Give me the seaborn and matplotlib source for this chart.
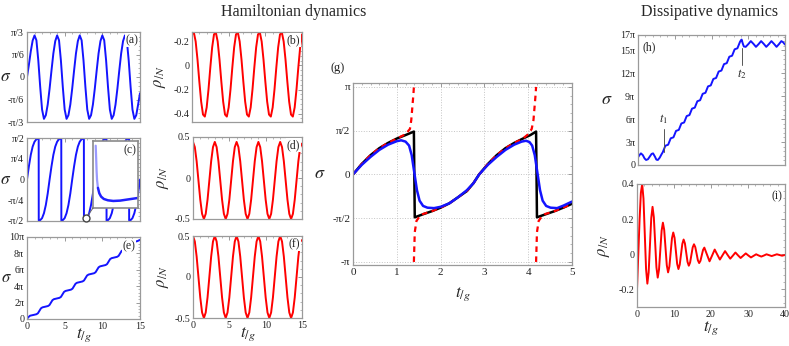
import matplotlib
matplotlib.use('Agg')
import matplotlib.pyplot as plt
from matplotlib.ticker import AutoMinorLocator
from matplotlib.patches import ConnectionPatch
import seaborn as sns

sns.set_theme(style='white')
plt.rcParams['font.family'] = ['Liberation Serif', 'DejaVu Serif']
plt.rcParams['mathtext.fontset'] = 'stix'

# ---------------- data (sigma values in units of pi) ----------------
t_ham = [0, 0.25, 0.5, 0.75, 1, 1.25, 1.5, 1.75, 2, 2.25, 2.5, 2.75, 3, 3.25, 3.5, 3.75,
         4, 4.25, 4.5, 4.75, 5, 5.25, 5.5, 5.75, 6, 6.25, 6.5, 6.75, 7, 7.25, 7.5, 7.75,
         8, 8.25, 8.5, 8.75, 9, 9.25, 9.5, 9.75, 10, 10.25, 10.5, 10.75, 11, 11.25, 11.5,
         11.75, 12, 12.25, 12.5, 12.75, 13, 13.25, 13.5, 13.75, 14, 14.25, 14.5, 14.75, 15]

# (a) sigma
sigma_a = [0, 0.09, 0.19, 0.27,
           0.308, 0.272, 0.123, -0.072, -0.241, -0.31, -0.283, -0.204, -0.086, 0.048, 0.175, 0.266,
           0.308, 0.272, 0.123, -0.072, -0.241, -0.31, -0.283, -0.204, -0.086, 0.048, 0.175, 0.266,
           0.308, 0.272, 0.123, -0.072, -0.241, -0.31, -0.283, -0.204, -0.086, 0.048, 0.175, 0.266,
           0.308, 0.272, 0.123, -0.072, -0.241, -0.31, -0.283, -0.204, -0.086, 0.048, 0.175, 0.266,
           0.308, 0.272, 0.123, -0.072, -0.241, -0.31, -0.283, -0.204, -0.12]

# (b) rho/N
rho_b = [0.258, 0.275, 0.199, 0.049, -0.134, -0.301, -0.408, -0.425, -0.349, -0.199, -0.016, 0.151,
         0.258, 0.275, 0.199, 0.049, -0.134, -0.301, -0.408, -0.425, -0.349, -0.199, -0.016, 0.151,
         0.258, 0.275, 0.199, 0.049, -0.134, -0.301, -0.408, -0.425, -0.349, -0.199, -0.016, 0.151,
         0.258, 0.275, 0.199, 0.049, -0.134, -0.301, -0.408, -0.425, -0.349, -0.199, -0.016, 0.151,
         0.258, 0.275, 0.199, 0.049, -0.134, -0.301, -0.408, -0.425, -0.349, -0.199, -0.016, 0.151,
         0.258]

# (d) rho/N
rho_d = [0.44, 0.377, 0.205, -0.03, -0.265, -0.437, -0.5, -0.437, -0.265, -0.03, 0.205, 0.377,
         0.44, 0.377, 0.205, -0.03, -0.265, -0.437, -0.5, -0.437, -0.265, -0.03, 0.205, 0.377,
         0.44, 0.377, 0.205, -0.03, -0.265, -0.437, -0.5, -0.437, -0.265, -0.03, 0.205, 0.377,
         0.44, 0.377, 0.205, -0.03, -0.265, -0.437, -0.5, -0.437, -0.265, -0.03, 0.205, 0.377,
         0.44, 0.377, 0.205, -0.03, -0.265, -0.437, -0.5, -0.437, -0.265, -0.03, 0.205, 0.377,
         0.42]

# (f) rho/N
rho_f = [0.5, 0.433, 0.25, 0, -0.25, -0.433, -0.5, -0.433, -0.25, 0, 0.25, 0.433,
         0.5, 0.433, 0.25, 0, -0.25, -0.433, -0.5, -0.433, -0.25, 0, 0.25, 0.433,
         0.5, 0.433, 0.25, 0, -0.25, -0.433, -0.5, -0.433, -0.25, 0, 0.25, 0.433,
         0.5, 0.433, 0.25, 0, -0.25, -0.433, -0.5, -0.433, -0.25, 0, 0.25, 0.433,
         0.5, 0.433, 0.25, 0, -0.25, -0.433, -0.5, -0.433, -0.25, 0, 0.25, 0.433,
         0.45]

# (c) sigma
t_c = [0, 0.25, 0.5, 0.75, 1.0, 1.25, 1.5, 1.55, 1.56, 1.75, 2.0, 2.25, 2.5, 2.75,
       3, 3.25, 3.5, 3.75, 4.0, 4.25, 4.5, 4.55, 4.56, 4.75, 5.0, 5.25, 5.5, 5.75,
       6, 6.25, 6.5, 6.75, 7.0, 7.25, 7.5, 7.55, 7.56, 7.75, 8.0, 8.25, 8.5, 8.75,
       9, 9.25, 9.5, 9.75, 10.0, 10.25, 10.5, 10.55, 10.56, 10.75, 11.0, 11.25, 11.5, 11.75,
       12, 12.25, 12.5, 12.75, 13.0, 13.25, 13.5, 13.55, 13.56, 13.75, 14.0, 14.25, 14.5, 14.75,
       15]
sigma_c = [0, 0.16, 0.3, 0.4, 0.46, 0.49, 0.5, 0.5, -0.5, -0.495, -0.47, -0.41, -0.31, -0.17,
           0, 0.16, 0.3, 0.4, 0.46, 0.49, 0.5, 0.5, -0.5, -0.495, -0.47, -0.41, -0.31, -0.17,
           0, 0.16, 0.3, 0.4, 0.46, 0.49, 0.5, 0.5, -0.5, -0.495, -0.47, -0.41, -0.31, -0.17,
           0, 0.16, 0.3, 0.4, 0.46, 0.49, 0.5, 0.5, -0.5, -0.495, -0.47, -0.41, -0.31, -0.17,
           0, 0.16, 0.3, 0.4, 0.46, 0.49, 0.5, 0.5, -0.5, -0.495, -0.47, -0.41, -0.31, -0.17,
           0]
# magnified region of (c) and inset curve (arbitrary inset units)
zoom_t, zoom_s = 7.85, -0.47
inset_x = [0.06, 0.07, 0.08, 0.09, 0.11, 0.14, 0.18, 0.24, 0.33, 0.45, 0.6, 0.75, 0.9, 1.0]
inset_y = [0.93, 0.75, 0.55, 0.42, 0.3, 0.22, 0.17, 0.135, 0.115, 0.105, 0.11, 0.125, 0.14, 0.15]

# (e) sigma
t_e = [0, 0.15, 0.4, 0.885,
       1.25, 1.45, 1.65, 1.85, 2.05, 2.415, 2.78, 2.98, 3.18, 3.38, 3.58, 3.945,
       4.31, 4.51, 4.71, 4.91, 5.11, 5.475, 5.84, 6.04, 6.24, 6.44, 6.64, 7.005,
       7.37, 7.57, 7.77, 7.97, 8.17, 8.535, 8.9, 9.1, 9.3, 9.5, 9.7, 10.065,
       10.43, 10.63, 10.83, 11.03, 11.23, 11.595, 11.96, 12.16, 12.36, 12.56, 12.76, 13.125,
       13.49, 13.69, 13.89, 14.09, 14.29, 14.655, 15.0]
sigma_e = [0, 0.2, 0.4, 0.5,
           0.58, 0.7, 1.0, 1.3, 1.42, 1.5, 1.58, 1.7, 2.0, 2.3, 2.42, 2.5,
           2.58, 2.7, 3.0, 3.3, 3.42, 3.5, 3.58, 3.7, 4.0, 4.3, 4.42, 4.5,
           4.58, 4.7, 5.0, 5.3, 5.42, 5.5, 5.58, 5.7, 6.0, 6.3, 6.42, 6.5,
           6.58, 6.7, 7.0, 7.3, 7.42, 7.5, 7.58, 7.7, 8.0, 8.3, 8.42, 8.5,
           8.58, 8.7, 9.0, 9.3, 9.42, 9.5, 9.65]

# (g) sigma: full (black), approximate (red dashed, three branches), blue
t_g_black = [0, 0.2, 0.4, 0.6, 0.8, 1.0, 1.2, 1.39, 1.41, 1.6, 1.8, 2.0, 2.2, 2.4, 2.6, 2.75,
             2.88, 3.08, 3.28, 3.48, 3.68, 3.88, 4.05, 4.18, 4.2, 4.4, 4.6, 4.8, 5.0]
s_g_black = [0, 0.12, 0.22, 0.3, 0.36, 0.41, 0.45, 0.49, -0.49, -0.455, -0.42, -0.38, -0.33, -0.26, -0.19, -0.1,
             0, 0.12, 0.22, 0.3, 0.36, 0.41, 0.45, 0.49, -0.49, -0.455, -0.42, -0.38, -0.335]
t_g_red1 = [0, 0.2, 0.4, 0.6, 0.8, 1.0, 1.2, 1.3, 1.33, 1.36, 1.38, 1.39]
s_g_red1 = [0, 0.12, 0.22, 0.3, 0.36, 0.41, 0.46, 0.52, 0.62, 0.8, 0.92, 1.0]
t_g_red2 = [1.39, 1.41, 1.45, 1.55, 1.8, 2.0, 2.2, 2.4, 2.6, 2.75, 2.88, 3.08, 3.28, 3.48, 3.68,
            3.88, 4.0, 4.08, 4.12, 4.15, 4.17, 4.18]
s_g_red2 = [-1.0, -0.66, -0.53, -0.46, -0.42, -0.38, -0.33, -0.26, -0.19, -0.1, 0, 0.12, 0.22, 0.3, 0.36,
            0.41, 0.46, 0.52, 0.62, 0.8, 0.92, 1.0]
t_g_red3 = [4.18, 4.2, 4.24, 4.34, 4.6, 4.8, 5.0]
s_g_red3 = [-1.0, -0.66, -0.53, -0.46, -0.42, -0.38, -0.335]
t_g_blue = [0, 0.2, 0.4, 0.6, 0.8, 1.0, 1.1, 1.2, 1.28, 1.34, 1.4, 1.46, 1.52, 1.6, 1.7, 1.85, 2.0,
            2.2, 2.4, 2.6, 2.75, 2.88, 3.08, 3.28, 3.48, 3.68, 3.85, 3.95, 4.03, 4.09, 4.15, 4.21,
            4.27, 4.33, 4.41, 4.51, 4.66, 4.81, 5.0]
s_g_blue = [0, 0.11, 0.2, 0.28, 0.34, 0.38, 0.39, 0.375, 0.33, 0.22, 0.02, -0.18, -0.3, -0.36, -0.38, -0.385, -0.37,
            -0.33, -0.26, -0.18, -0.1, 0, 0.11, 0.2, 0.28, 0.34, 0.375, 0.385, 0.37, 0.33, 0.22, 0.02,
            -0.18, -0.3, -0.36, -0.38, -0.385, -0.355, -0.31]

# (h) sigma, dissipative
t_h = [0, 0.4, 0.8, 1.3, 1.8, 2.2, 2.7, 3.2, 3.7, 4.1, 4.6, 5.0, 5.4, 5.9, 6.4,
       6.75, 7.1, 7.45, 8.2, 8.55, 8.9, 9.65, 10.0, 10.35, 11.1, 11.45, 11.8,
       12.55, 12.9, 13.25, 14.0, 14.35, 14.7, 15.45, 15.8, 16.15, 16.9, 17.25, 17.6,
       18.35, 18.7, 19.05, 19.8, 20.15, 20.5, 21.25, 21.6, 21.95, 22.7, 23.05, 23.4,
       24.15, 24.5, 24.85, 25.6, 25.95, 26.3, 27.05, 27.4, 27.75,
       28.0, 28.2, 28.5, 28.8, 29.3, 30.0, 30.7, 31.4, 32.1, 32.8, 33.5, 34.2, 34.9,
       35.6, 36.3, 37.0, 37.7, 38.35, 39.0, 39.5, 40.0]
sigma_h = [1.0, 1.3, 1.52, 1.3, 0.85, 0.66, 0.75, 1.1, 1.45, 1.52, 1.1, 0.7, 0.66, 0.95, 1.4,
           1.68, 2.1, 2.52, 2.65, 3.07, 3.49, 3.62, 4.04, 4.46, 4.59, 5.01, 5.43,
           5.56, 5.98, 6.4, 6.53, 6.95, 7.37, 7.5, 7.92, 8.34, 8.47, 8.89, 9.31,
           9.44, 9.86, 10.28, 10.41, 10.83, 11.25, 11.38, 11.8, 12.22, 12.35, 12.77, 13.19,
           13.32, 13.74, 14.16, 14.29, 14.71, 15.13, 15.26, 15.68, 16.1,
           16.3, 16.4, 15.9, 15.5, 15.45, 15.8, 16.2, 15.85, 15.45, 15.8, 16.2, 15.85, 15.45,
           15.8, 16.2, 15.85, 15.45, 15.8, 16.2, 16.05, 15.75]
t1_mark, t1_span = 6.97, (1.7, 4.75)
t2_mark, t2_span = 28.2, (13.1, 15.35)

# (i) rho/N, dissipative
t_i = [0, 0.35, 0.7, 1.05, 1.4, 1.75, 2.1, 2.45, 2.8, 3.15, 3.5, 3.85, 4.2, 4.55, 4.9, 5.25,
       5.6, 5.95, 6.3, 6.65, 7.0, 7.35, 7.7, 8.05, 8.4, 8.75, 9.1, 9.45, 9.8, 10.15, 10.5,
       10.85, 11.2, 11.55, 11.9, 12.25, 12.6, 12.95, 13.3, 13.65, 14.0, 14.35, 14.7, 15.05,
       15.4, 15.75, 16.1, 16.45, 16.8, 17.15, 17.5, 17.85, 18.2,
       18.9, 19.6, 20.3, 21.0, 21.7, 22.4, 23.1, 23.8, 24.5, 25.2, 25.9, 26.6, 27.3, 28.0,
       28.7, 29.4, 30.1, 30.8, 31.5, 32.2, 32.9, 33.6, 34.3, 35.0, 35.7, 36.4, 37.1, 37.8,
       38.5, 39.2, 40.0]
rho_i = [-0.2, 0.0, 0.2, 0.35, 0.4,
         0.317, 0.117, -0.084, -0.167,
         -0.103, 0.052, 0.206, 0.27,
         0.211, 0.069, -0.074, -0.133,
         -0.087, 0.024, 0.134, 0.18,
         0.139, 0.039, -0.062, -0.103,
         -0.07, 0.011, 0.091, 0.124,
         0.094, 0.02, -0.054, -0.084,
         -0.059, 0.0, 0.059, 0.084,
         0.062, 0.01, -0.043, -0.065,
         -0.047, -0.004, 0.039, 0.057,
         0.041, 0.004, -0.034, -0.05,
         -0.037, -0.006, 0.025, 0.038,
         -0.001, -0.04, -0.007, 0.027, -0.002, -0.03, -0.006, 0.018, -0.004, -0.025,
         -0.008, 0.01, -0.006, -0.021, -0.008, 0.005, -0.007, -0.018, -0.009, 0.0,
         -0.007, -0.013, -0.007, 0.0, -0.005, -0.01, -0.005, 0.0, -0.004, -0.008, -0.004]

# ---------------- figure ----------------
W, H = 789, 346
fig = plt.figure(figsize=(W / 100, H / 100), dpi=100)
BLUE, RED = '#1414ff', '#ff0000'
FRAME = '#9a9a9a'


def make_ax(x0, y0, x1, y1):
    # pixel box -> figure axes
    return fig.add_axes([x0 / W, 1 - y1 / H, (x1 - x0) / W, (y1 - y0) / H])


def style(ax, xlim, xticks, ylim, yticks, ylabels, show_x=False):
    ax.set_xlim(*xlim)
    ax.set_ylim(*ylim)
    ax.set_xticks(xticks)
    ax.set_yticks(yticks)
    ax.set_yticklabels(ylabels)
    if show_x:
        ax.set_xticklabels([('%g' % v) for v in xticks])
    ax.xaxis.set_minor_locator(AutoMinorLocator(5))
    ax.yaxis.set_minor_locator(AutoMinorLocator(5))
    ax.tick_params(which='both', direction='in', top=True, right=True, color=FRAME,
                   labelsize=7.2, pad=2, labelbottom=show_x, labelcolor='#222222')
    ax.tick_params(which='major', length=3, width=0.7)
    ax.tick_params(which='minor', length=1.6, width=0.5)
    for sp in ax.spines.values():
        sp.set_color(FRAME)
        sp.set_linewidth(0.9)
    ax.set_xlabel('')
    ax.set_ylabel('')


def panel_tag(ax, text, x=0.985, y=0.975, ha='right', va='top'):
    ax.text(x, y, text, transform=ax.transAxes, ha=ha, va=va, fontsize=8.5, zorder=6,
            bbox=dict(fc='white', ec='none', pad=0.6))


def ylab(ax, text, xpos, rot=0, size=13):
    ax.set_ylabel(text, rotation=rot, fontsize=size, va='center', ha='center')
    ax.yaxis.set_label_coords(xpos, 0.5)


def xlab(ax, ypos):
    ax.set_xlabel(r'$t_{/g}$', fontsize=12.5, va='top')
    ax.xaxis.set_label_coords(0.5, ypos)


def line(ax, x, y, color, lw=1.4, **kw):
    sns.lineplot(x=x, y=y, ax=ax, color=color, linewidth=lw, estimator=None,
                 sort=False, legend=False, **kw)


pi3 = ['-π/3', '-π/6', '0', 'π/6', 'π/3']
pi2 = ['-π/2', '-π/4', '0', 'π/4', 'π/2']

# (a)
ax_a = make_ax(27, 32, 140, 122)
line(ax_a, t_ham, sigma_a, BLUE)
style(ax_a, (0, 15), [0, 5, 10, 15], (-1 / 3, 1 / 3), [-1 / 3, -1 / 6, 0, 1 / 6, 1 / 3], pi3)
ylab(ax_a, r'$\sigma$', -0.185, size=12.5)
panel_tag(ax_a, '(a)')

# (c)
ax_c = make_ax(27, 138, 140, 221)
line(ax_c, t_c, sigma_c, BLUE)
style(ax_c, (0, 15), [0, 5, 10, 15], (-0.505, 0.505), [-0.5, -0.25, 0, 0.25, 0.5], pi2)
ylab(ax_c, r'$\sigma$', -0.185, size=12.5)
ax_c.plot([zoom_t], [zoom_s], 'o', ms=5, mfc='white', mec='#444444', mew=1.0,
          zorder=7, clip_on=False)

ax_in = make_ax(93, 141, 138, 208)
ax_in.set_facecolor('white')
line(ax_in, inset_x[:5], inset_y[:5], '#9a9aff', lw=1.6)
line(ax_in, inset_x[4:], inset_y[4:], '#2020ff', lw=1.8)
ax_in.set_xlim(0, 1)
ax_in.set_ylim(0, 1)
ax_in.set_xticks([])
ax_in.set_yticks([])
ax_in.set_xlabel('')
ax_in.set_ylabel('')
for sp in ax_in.spines.values():
    sp.set_color('#8a8a8a')
    sp.set_linewidth(1.2)
ax_in.text(0.97, 0.95, '(c)', transform=ax_in.transAxes, ha='right', va='top', fontsize=8.5)
con = ConnectionPatch(xyA=(zoom_t, zoom_s), coordsA=ax_c.transData, xyB=(0, 0),
                      coordsB=ax_in.transAxes, color='#666666', lw=0.7, shrinkA=3, shrinkB=0)
fig.add_artist(con)

# (e)
ax_e = make_ax(27, 237, 140, 319)
line(ax_e, t_e, sigma_e, BLUE)
style(ax_e, (0, 15), [0, 5, 10, 15], (0, 10), [0, 2, 4, 6, 8, 10],
      ['0', '2π', '4π', '6π', '8π', '10π'], show_x=True)
ylab(ax_e, r'$\sigma$', -0.18, size=12)
xlab(ax_e, -0.09)
panel_tag(ax_e, '(e)', x=0.96, y=0.965)

# (b)
ax_b = make_ax(192, 32, 302, 122)
line(ax_b, t_ham, rho_b, RED)
style(ax_b, (0, 15), [0, 5, 10, 15], (-0.47, 0.278), [-0.4, -0.2, 0, 0.2],
      ['-0.4', '-0.2', '0', '-0.2'])
ylab(ax_b, r'$\rho_{/N}$', -0.29, rot=90, size=12)
panel_tag(ax_b, '(b)')

# (d)
ax_d = make_ax(193, 137, 302, 219)
line(ax_d, t_ham, rho_d, RED)
style(ax_d, (0, 15), [0, 5, 10, 15], (-0.5, 0.5), [-0.5, 0, 0.5], ['-0.5', '0', '0.5'])
ylab(ax_d, r'$\rho_{/N}$', -0.275, rot=90, size=12)
panel_tag(ax_d, '(d)')

# (f)
ax_f = make_ax(193, 236, 302, 318)
line(ax_f, t_ham, rho_f, RED)
style(ax_f, (0, 15), [0, 5, 10, 15], (-0.5, 0.5), [-0.5, 0, 0.5], ['-0.5', '0', '0.5'],
      show_x=True)
ylab(ax_f, r'$\rho_{/N}$', -0.275, rot=90, size=12)
xlab(ax_f, -0.09)
panel_tag(ax_f, '(f)')

# (g)
ax_g = make_ax(353, 83, 572, 265)
ax_g.grid(True, which='major', ls=':', color='#c4c4c4', lw=0.7)
line(ax_g, t_g_black, s_g_black, 'black', lw=1.8)
for tt, ss in [(t_g_red1, s_g_red1), (t_g_red2, s_g_red2), (t_g_red3, s_g_red3)]:
    line(ax_g, tt, ss, RED, lw=1.6, linestyle=(0, (2.5, 2)))
line(ax_g, t_g_blue, s_g_blue, BLUE, lw=1.8)
style(ax_g, (0, 5), [0, 1, 2, 3, 4, 5], (-1.035, 1.045), [-1, -0.5, 0, 0.5, 1],
      ['-π', '-π/2', '0', 'π/2', 'π'], show_x=True)
ax_g.tick_params(labelsize=8)
ylab(ax_g, r'$\sigma$', -0.15)
xlab(ax_g, -0.11)
ax_g.text(-0.07, 1.085, '(g)', transform=ax_g.transAxes, ha='center', va='center', fontsize=9)

# (h)
ax_h = make_ax(638, 35, 785, 165)
line(ax_h, t_h, sigma_h, BLUE)
style(ax_h, (0, 40), [0, 10, 20, 30, 40], (0, 17), [0, 3, 6, 9, 12, 15, 17],
      ['0', '3π', '6π', '9π', '12π', '15π', '17π'])
ax_h.plot([t1_mark, t1_mark], t1_span, color='#555555', lw=0.7)
ax_h.plot([t2_mark, t2_mark], t2_span, color='#555555', lw=0.7)
ax_h.text(t1_mark, t1_span[1] + 0.3, r'$t_1$', ha='center', va='bottom', fontsize=9)
ax_h.text(t2_mark, t2_span[0] - 0.3, r'$t_2$', ha='center', va='top', fontsize=9)
ylab(ax_h, r'$\sigma$', -0.21)
panel_tag(ax_h, '(h)', x=0.03, y=0.95, ha='left')

# (i)
ax_i = make_ax(637, 184, 785, 307)
line(ax_i, t_i, rho_i, RED)
style(ax_i, (0, 40), [0, 10, 20, 30, 40], (-0.3, 0.4), [-0.2, 0, 0.2, 0.4],
      ['-0.2', '0', '0.2', '0.4'], show_x=True)
ylab(ax_i, r'$\rho_{/N}$', -0.22, rot=90, size=12)
xlab(ax_i, -0.1)
panel_tag(ax_i, '(i)', x=0.98, y=0.95)

fig.text(294 / W, 1 - 12 / H, 'Hamiltonian dynamics', ha='center', va='center', fontsize=11.5)
fig.text(710 / W, 1 - 12 / H, 'Dissipative dynamics', ha='center', va='center', fontsize=11.5)

fig.savefig('out.png', dpi=100)
